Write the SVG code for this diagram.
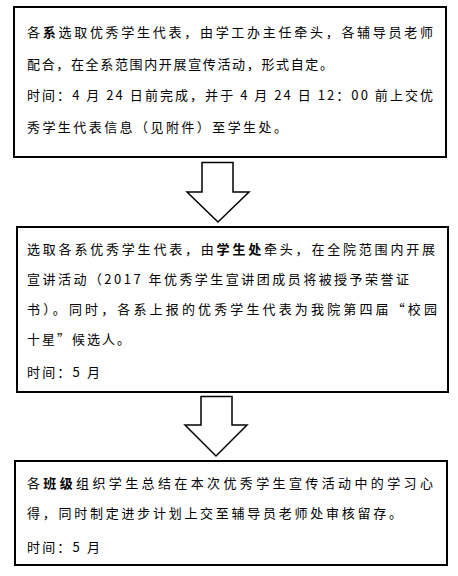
<svg xmlns="http://www.w3.org/2000/svg" width="458" height="576" viewBox="0 0 458 576">
<style>
.box{fill:#fff;stroke:#000;stroke-width:2}
.arr{fill:#fff;stroke:#000;stroke-width:1.5;stroke-linejoin:miter}
text{font-family:"Noto Sans CJK SC","Noto Sans CJK JP",sans-serif;font-size:13px;fill:#000}
.b{font-weight:bold}
</style>
<rect width="458" height="576" fill="#fff"/>
<g id="node1">
<rect class="box" x="14" y="7" width="432" height="150"/>
<text x="27" y="37" textLength="406" lengthAdjust="spacing">各<tspan class="b">系</tspan>选取优秀学生代表，由学工办主任牵头，各辅导员老师</text>
<text x="27" y="69" textLength="306" lengthAdjust="spacing">配合，在全系范围内开展宣传活动，形式自定。</text>
<text x="27" y="100" textLength="406" lengthAdjust="spacing">时间：4 月 24 日前完成，并于 4 月 24 日 12：00 前上交优</text>
<text x="27" y="132" textLength="260" lengthAdjust="spacing">秀学生代表信息（见附件）至学生处。</text>
</g>
<g id="node2">
<rect class="box" x="17" y="227" width="431" height="165"/>
<text x="27" y="254" textLength="408" lengthAdjust="spacing">选取各系优秀学生代表，由<tspan class="b">学生处</tspan>牵头，在全院范围内开展</text>
<text x="27" y="284" textLength="382" lengthAdjust="spacing">宣讲活动（2017 年优秀学生宣讲团成员将被授予荣誉证</text>
<text x="27" y="314" textLength="410" lengthAdjust="spacing">书）。同时，各系上报的优秀学生代表为我院第四届“校园</text>
<text x="27" y="344" textLength="103" lengthAdjust="spacing">十星”候选人。</text>
<text x="27" y="377" textLength="73" lengthAdjust="spacing">时间：5 月</text>
</g>
<g id="node3">
<rect class="box" x="15" y="461" width="432" height="104"/>
<text x="27" y="488" textLength="406" lengthAdjust="spacing">各<tspan class="b">班级</tspan>组织学生总结在本次优秀学生宣传活动中的学习心</text>
<text x="27" y="518" textLength="375" lengthAdjust="spacing">得，同时制定进步计划上交至辅导员老师处审核留存。</text>
<text x="27" y="552" textLength="73" lengthAdjust="spacing">时间：5 月</text>
</g>
<g id="connectors">
<polygon class="arr" points="202,162.5 233,162.5 233,192 249,192 218,222 187,192 202,192"/>
<polygon class="arr" points="201,396.5 232,396.5 232,425 247,425 216,456 185,425 201,425"/>
</g>
</svg>
